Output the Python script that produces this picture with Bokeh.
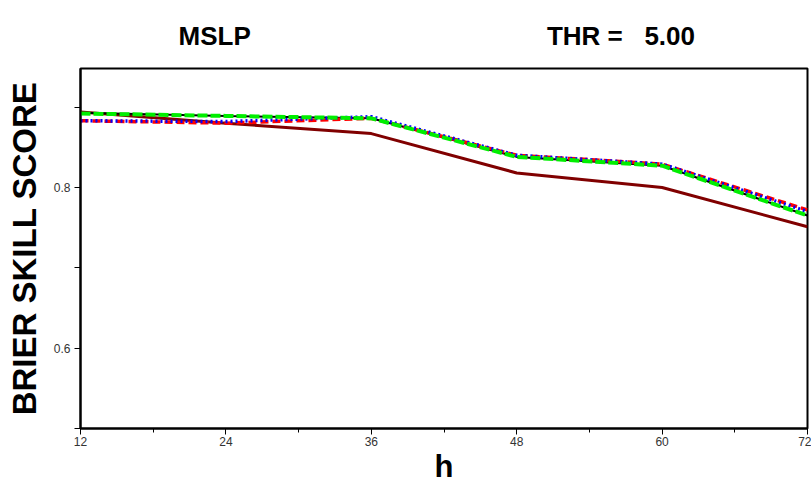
from bokeh.plotting import figure
from bokeh.models import FixedTicker, Range1d, Title
from bokeh.embed import file_html
from bokeh.resources import INLINE

hours = [12, 24, 36, 48, 60, 72]
bss_brown = [0.894, 0.880, 0.867, 0.818, 0.800, 0.751]
bss_black = [0.893, 0.889, 0.886, 0.838, 0.827, 0.765]
bss_green = [0.892, 0.889, 0.886, 0.838, 0.827, 0.765]
bss_red = [0.883, 0.880, 0.886, 0.840, 0.829, 0.772]
bss_blue = [0.883, 0.882, 0.888, 0.840, 0.829, 0.770]
x_ticks = [12, 24, 36, 48, 60, 72]
y_ticks = [0.5, 0.6, 0.7, 0.8, 0.9]
y_labels = {0.5: "", 0.6: "0.6", 0.7: "", 0.8: "0.8", 0.9: ""}
title_left = "MSLP"
title_right = "THR =\u00a0\u00a0\u00a05.00"
NB = "\u00a0"

p = figure(width=811, height=486, output_backend="svg", toolbar_location=None,
           x_range=Range1d(12, 72), y_range=Range1d(0.5, 0.948),
           min_border_left=80, min_border_right=4, min_border_top=68, min_border_bottom=58)
p.grid.visible = False
p.outline_line_color = "black"
p.outline_line_width = 2

p.line(hours, bss_brown, line_color="#800000", line_width=3)
p.line(hours, bss_black, line_color="black", line_width=2)
p.line(hours, bss_red, line_color="red", line_width=3.5, line_dash="8 4")
p.line(hours, bss_blue, line_color="blue", line_width=3.5, line_dash="2 3")
p.line(hours, bss_green, line_color="#00ee00", line_width=4, line_dash="10 3")

for ax in (p.xaxis[0], p.yaxis[0]):
    ax.axis_line_width = 2
    ax.axis_line_color = "black"
    ax.major_tick_line_color = "black"
    ax.minor_tick_line_color = "black"
    ax.major_tick_out = 6
    ax.major_tick_in = 0
    ax.minor_tick_out = 4
    ax.minor_tick_in = 0
    ax.major_label_text_font = "Liberation Sans"
    ax.major_label_text_font_size = "12px"
    ax.major_label_text_color = "#333333"
    ax.axis_label_text_font = "Liberation Sans"
    ax.axis_label_text_font_style = "bold"
    ax.axis_label_text_color = "black"

p.xaxis.ticker = FixedTicker(ticks=x_ticks, minor_ticks=[18, 30, 42, 54, 66])
p.yaxis.ticker = FixedTicker(ticks=y_ticks, minor_ticks=[])
p.yaxis.major_label_overrides = y_labels
p.xaxis.axis_label = "h"
p.xaxis.axis_label_text_font_size = "31px"
p.xaxis.axis_label_standoff = 0
p.xaxis.major_label_standoff = 2
p.yaxis.axis_label = "BRIER SKILL SCORE"
p.yaxis.axis_label_text_font_size = "33px"
p.yaxis.axis_label_standoff = 8
p.yaxis.major_label_standoff = 4

title_text = title_left + NB * 41 + title_right
p.add_layout(Title(text=title_text, align="left", offset=98, standoff=32,
                   vertical_align="top",
                   text_font="Liberation Sans", text_font_style="bold",
                   text_font_size="26px", text_color="black"), "above")

open("out.html", "w").write(file_html(p, INLINE))
